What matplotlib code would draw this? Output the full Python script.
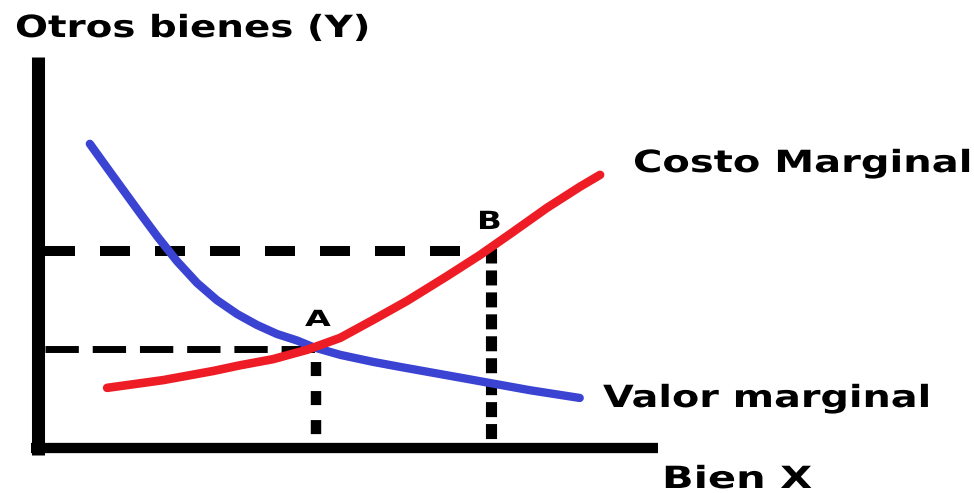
import matplotlib
matplotlib.use("Agg")
import matplotlib.pyplot as plt
from matplotlib import patheffects
from matplotlib.transforms import Affine2D

# ---- data (arbitrary units, 0..100 on both axes) ----
valor_x = [8.4, 11.2, 13.8, 16.5, 19.3, 22.5, 25.8, 29.0, 32.3, 35.5, 38.7, 42.0, 44.6,
           49.0, 54.3, 58.7, 68.9, 79.7, 87.8]
valor_y = [78.4, 72.2, 66.5, 60.6, 54.6, 48.2, 42.5, 38.1, 34.5, 31.7, 29.4, 27.7, 26.0,
           24.0, 22.2, 20.9, 18.0, 14.9, 12.9]

costo_x = [11.2, 20.3, 28.4, 32.7, 38.1, 43.6, 49.0, 54.3, 59.8, 66.3, 71.6, 77.0, 82.5, 87.8, 91.1]
costo_y = [15.5, 17.5, 19.85, 21.3, 22.9, 25.3, 28.4, 33.0, 37.9, 44.3, 49.7, 55.7, 61.9, 67.3, 70.4]

point_A = (45.0, 25.8)
point_B = (73.4, 50.7)

y_label = "Otros bienes (Y)"
x_label = "Bien X"
label_costo = "Costo Marginal"
label_valor = "Valor marginal"

plt.rcParams['lines.scale_dashes'] = False
plt.rcParams['font.family'] = ['DejaVu Sans']


class StretchX(patheffects.AbstractPathEffect):
    """Draw text glyphs widened horizontally around the text origin."""
    def __init__(self, sx):
        super().__init__()
        self.sx = sx

    def draw_path(self, renderer, gc, tpath, affine, rgbFace=None):
        renderer.draw_path(gc, tpath, Affine2D().scale(self.sx, 1.0) + affine, rgbFace)


W, H = 974, 493
fig = plt.figure(figsize=(W / 100, H / 100), dpi=100)
ax = fig.add_axes([38 / W, 1 - 448 / H, 617 / W, 388 / H])
ax.set_xlim(0, 100)
ax.set_ylim(0, 100)
ax.axis('off')

BLUE = '#3b43d2'
RED = '#ee1c25'

# axes lines
ax.plot([0, 0], [-1.8, 100.8], color='black', lw=9.4, solid_capstyle='butt', clip_on=False, zorder=5)
ax.plot([-1.2, 100.5], [0, 0], color='black', lw=7.4, solid_capstyle='butt', clip_on=False, zorder=5)

# dashed guide lines
l1, = ax.plot([1.1, point_B[0]], [point_B[1], point_B[1]], color='black', lw=7.2,
              dash_capstyle='butt', clip_on=False, zorder=2)
l1.set_linestyle((0, (21.6, 18)))
l2, = ax.plot([point_B[0], point_B[0]], [point_B[1] + 0.9, 0], color='black', lw=8.0,
              dash_capstyle='butt', clip_on=False, zorder=2)
l2.set_linestyle((0, (10.8, 5.0)))
l3, = ax.plot([1.1, point_A[0]], [point_A[1] - 0.3, point_A[1] - 0.3], color='black', lw=5.0,
              dash_capstyle='butt', clip_on=False, zorder=2)
l3.set_linestyle((0, (24, 10)))
l4, = ax.plot([point_A[0], point_A[0]], [point_A[1], 2.0], color='black', lw=7.5,
              dash_capstyle='butt', clip_on=False, zorder=2)
l4.set_linestyle((10.8, (10.1, 10.8)))

# curves
ax.plot(valor_x, valor_y, color=BLUE, lw=6.0, solid_capstyle='round', solid_joinstyle='round', zorder=3)
ax.plot(costo_x, costo_y, color=RED, lw=6.2, solid_capstyle='round', solid_joinstyle='round', zorder=4)

# texts
fs_big = 22
fig.text(15 / W, 1 - 37 / H, y_label, fontsize=fs_big, fontweight='bold', va='baseline', ha='left',
         path_effects=[StretchX(1.27)])
fig.text(662 / W, 1 - 488 / H, x_label, fontsize=fs_big, fontweight='bold', va='baseline', ha='left',
         path_effects=[StretchX(1.36)])
fig.text(633 / W, 1 - 172 / H, label_costo, fontsize=fs_big, fontweight='bold', va='baseline', ha='left',
         path_effects=[StretchX(1.31)])
fig.text(603 / W, 1 - 407 / H, label_valor, fontsize=fs_big, fontweight='bold', va='baseline', ha='left',
         path_effects=[StretchX(1.30)])

fig.text(305 / W, 1 - 326 / H, 'A', fontsize=16, fontweight='bold', va='baseline', ha='left',
         path_effects=[StretchX(1.5)])
fig.text(477 / W, 1 - 229 / H, 'B', fontsize=18, fontweight='bold', va='baseline', ha='left',
         path_effects=[StretchX(1.3)])

fig.savefig('out.png', dpi=100)
